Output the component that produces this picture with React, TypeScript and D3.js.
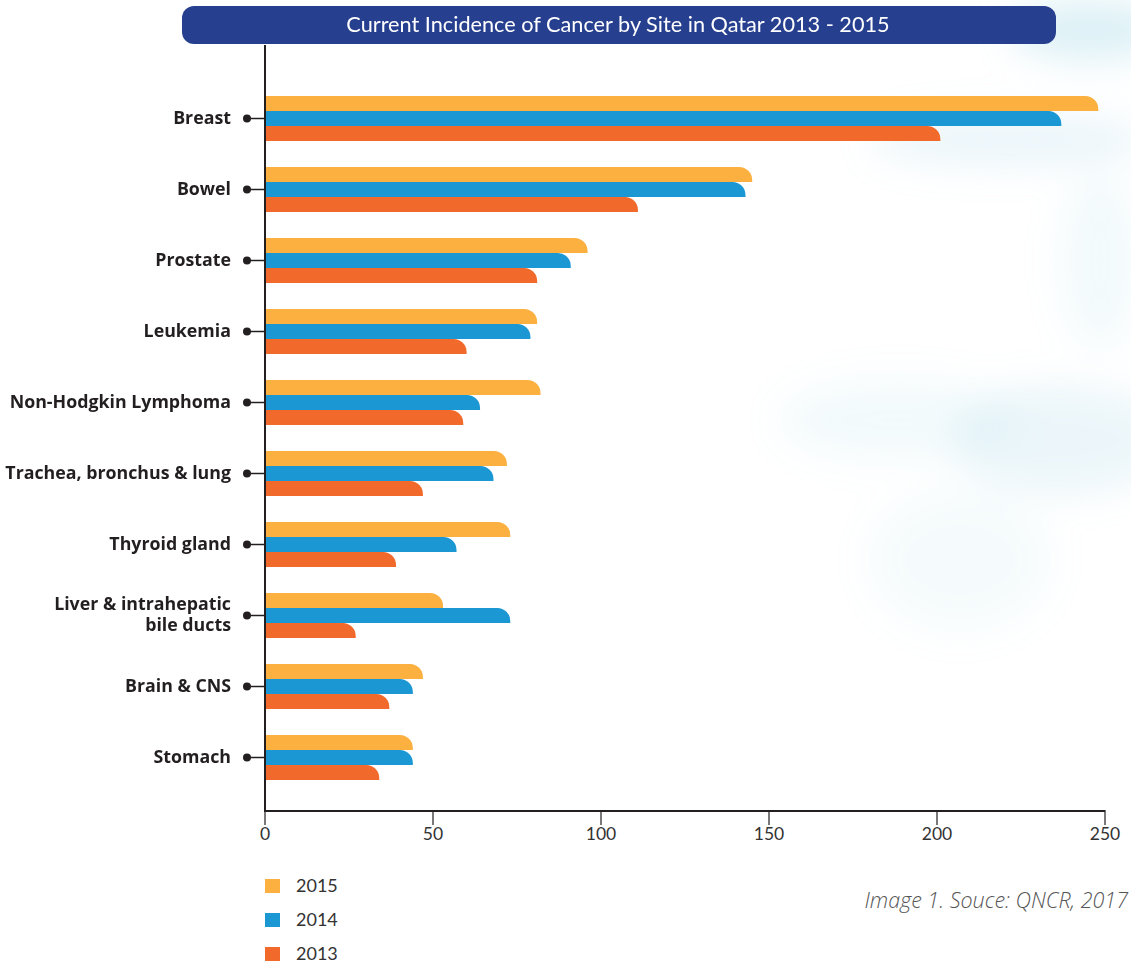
import { useEffect, useRef } from 'react';
import * as d3 from 'd3';

const sites = [
  'Breast',
  'Bowel',
  'Prostate',
  'Leukemia',
  'Non-Hodgkin Lymphoma',
  'Trachea, bronchus & lung',
  'Thyroid gland',
  'Liver & intrahepatic\nbile ducts',
  'Brain & CNS',
  'Stomach',
];
const years = ['2015', '2014', '2013'];
const values2015 = [248, 145, 96, 81, 82, 72, 73, 53, 47, 44];
const values2014 = [237, 143, 91, 79, 64, 68, 57, 73, 44, 44];
const values2013 = [201, 111, 81, 60, 59, 47, 39, 27, 37, 34];
const xTicks = [0, 50, 100, 150, 200, 250];
const yearColors = ['#fbb040', '#1b97d4', '#f26a2b'];

export default function App() {
  const svgRef = useRef<SVGSVGElement>(null);

  useEffect(() => {
    if (!svgRef.current) return;
    const svg = d3.select(svgRef.current);
    svg.selectAll('*').remove();

    const width = 1131;
    const height = 964;
    const margin = { left: 265, right: 26, top: 83, axisY: 811 };

    // soft background decoration
    const defs = svg.append('defs');
    defs
      .append('filter')
      .attr('id', 'blur')
      .attr('x', '-50%')
      .attr('y', '-50%')
      .attr('width', '200%')
      .attr('height', '200%')
      .append('feGaussianBlur')
      .attr('stdDeviation', 18);
    const deco = svg.append('g').attr('filter', 'url(#blur)');
    const blobs = [
      [1090, 30, 80, 30, 0.35],
      [1010, 140, 140, 25, 0.22],
      [1060, 440, 110, 55, 0.2],
      [900, 420, 120, 40, 0.12],
      [960, 560, 90, 70, 0.1],
      [1100, 260, 40, 90, 0.12],
    ];
    blobs.forEach(([cx, cy, rx, ry, op]) => {
      deco
        .append('ellipse')
        .attr('cx', cx)
        .attr('cy', cy)
        .attr('rx', rx)
        .attr('ry', ry)
        .attr('fill', '#9fd3e6')
        .attr('opacity', op);
    });

    // Title banner
    svg
      .append('rect')
      .attr('x', 182)
      .attr('y', 6)
      .attr('width', 874)
      .attr('height', 38)
      .attr('rx', 12)
      .attr('fill', '#263f8e');
    svg
      .append('text')
      .attr('x', 618)
      .attr('y', 32)
      .attr('text-anchor', 'middle')
      .attr('fill', '#ffffff')
      .attr('font-family', 'Lato, sans-serif')
      .attr('font-size', 21.7)
      .text('Current Incidence of Cancer by Site in Qatar 2013 - 2015');

    const xScale = d3
      .scaleLinear()
      .domain([0, 250])
      .range([margin.left, width - margin.right]);

    const yScale = d3
      .scaleBand()
      .domain(sites)
      .range([margin.top, margin.top + 71 * sites.length])
      .paddingInner(0.366)
      .paddingOuter(0.183);

    const subScale = d3
      .scaleBand()
      .domain(years)
      .range([0, yScale.bandwidth()]);

    const series = [values2015, values2014, values2013];

    // bars with rounded top-right corner
    const barPath = (x0: number, x1: number, y: number, h: number) => {
      const r = Math.min(13, x1 - x0, h);
      return `M${x0},${y}H${x1 - r}A${r},${r} 0 0 1 ${x1},${y + r}V${y + h}H${x0}Z`;
    };

    sites.forEach((site, i) => {
      const g = svg.append('g').attr('transform', `translate(0,${yScale(site)})`);
      years.forEach((yr, j) => {
        g.append('path')
          .attr('d', barPath(xScale(0), xScale(series[j][i]), subScale(yr) as number, subScale.bandwidth()))
          .attr('fill', yearColors[j]);
      });
    });

    // x axis
    const xAxis = svg.append('g').attr('transform', `translate(0,${margin.axisY})`);
    xAxis
      .append('line')
      .attr('x1', xScale(0))
      .attr('x2', xScale(250))
      .attr('stroke', '#231f20')
      .attr('stroke-width', 2);
    xTicks.forEach((t) => {
      xAxis
        .append('line')
        .attr('x1', xScale(t))
        .attr('x2', xScale(t))
        .attr('y1', t === 0 || t === 250 ? -1 : 1)
        .attr('y2', 14)
        .attr('stroke', '#231f20')
        .attr('stroke-width', 1.2);
      xAxis
        .append('text')
        .attr('x', xScale(t))
        .attr('y', 29)
        .attr('text-anchor', 'middle')
        .attr('fill', '#333333')
        .attr('font-family', 'Lato, sans-serif')
        .attr('font-size', 17.5)
        .text(t);
    });

    // y axis line
    svg
      .append('line')
      .attr('x1', xScale(0))
      .attr('x2', xScale(0))
      .attr('y1', 45)
      .attr('y2', margin.axisY + 1)
      .attr('stroke', '#231f20')
      .attr('stroke-width', 2);

    // category labels with dot connectors
    sites.forEach((site) => {
      const cy = (yScale(site) as number) + yScale.bandwidth() / 2;
      svg
        .append('line')
        .attr('x1', 247)
        .attr('x2', xScale(0))
        .attr('y1', cy)
        .attr('y2', cy)
        .attr('stroke', '#231f20')
        .attr('stroke-width', 1.5);
      svg
        .append('circle')
        .attr('cx', 247)
        .attr('cy', cy)
        .attr('r', 4)
        .attr('fill', '#231f20');
      const lines = site.split('\n');
      const lineH = 21;
      lines.forEach((ln, k) => {
        svg
          .append('text')
          .attr('x', 231)
          .attr('y', cy - ((lines.length - 1) * lineH) / 2 + 5 + k * lineH)
          .attr('text-anchor', 'end')
          .attr('fill', '#231f20')
          .attr('font-family', '"Open Sans", sans-serif')
          .attr('font-weight', 'bold')
          .attr('font-size', 17.8)
          .text(ln);
      });
    });

    // legend
    const legend = svg.append('g').attr('transform', 'translate(265,879)');
    years.forEach((yr, j) => {
      legend
        .append('rect')
        .attr('x', 0)
        .attr('y', j * 34)
        .attr('width', 15)
        .attr('height', 14)
        .attr('fill', yearColors[j]);
      legend
        .append('text')
        .attr('x', 31)
        .attr('y', j * 34 + 13)
        .attr('fill', '#333333')
        .attr('font-family', 'Lato, sans-serif')
        .attr('font-size', 18)
        .text(yr);
    });

    // source note
    svg
      .append('text')
      .attr('x', 1128)
      .attr('y', 908)
      .attr('text-anchor', 'end')
      .attr('fill', '#555555')
      .attr('font-family', '"Open Sans", sans-serif')
      .attr('font-style', 'italic')
      .attr('font-weight', 300)
      .attr('font-size', 21.5)
      .text('Image 1. Souce: QNCR, 2017');

    svg.attr('width', width).attr('height', height);
  }, []);

  return (
    <svg
      ref={svgRef}
      width={1131}
      height={964}
      style={{ position: 'absolute', left: 0, top: 0, background: '#ffffff' }}
    ></svg>
  );
}
